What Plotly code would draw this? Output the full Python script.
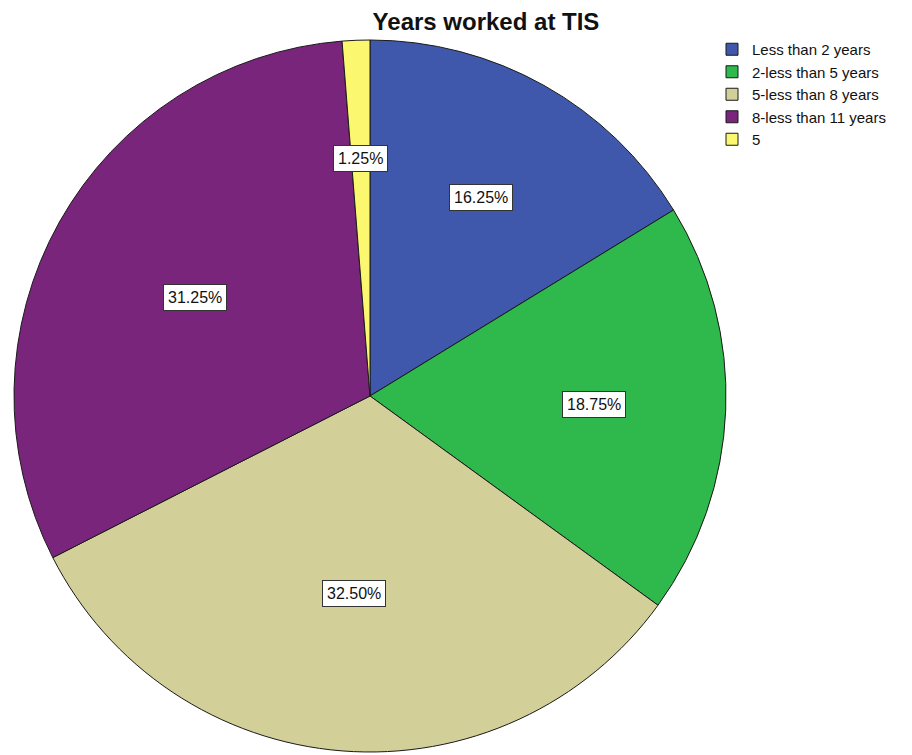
import math
import plotly.graph_objects as go

# ---- data ----
categories = ["Less than 2 years", "2-less than 5 years", "5-less than 8 years",
              "8-less than 11 years", "5"]
counts = [13, 15, 26, 25, 1]
colors = ["#3f58ab", "#2fb84b", "#d3cf99", "#7a257c", "#fbf870"]
title_text = "Years worked at TIS"

# ---- geometry (pixels) ----
W, H = 912, 755
CX, CY, R = 370, 396, 356

dom_x = [(CX - R) / W, (CX + R) / W]
dom_y = [1 - (CY + R) / H, 1 - (CY - R) / H]

total = sum(counts)
pcts = [c / total * 100 for c in counts]
label_txt = [f"{p:.2f}%" for p in pcts]

fig = go.Figure(go.Pie(
    labels=categories,
    values=counts,
    sort=False,
    direction="clockwise",
    rotation=0,
    marker=dict(colors=colors, line=dict(color="#1a1a1a", width=1)),
    textinfo="none",
    hoverinfo="label+percent",
    domain=dict(x=dom_x, y=dom_y),
))

# label boxes at each slice's area centroid
annotations = []
cum = 0
for c, t in zip(counts, label_txt):
    a0 = cum / total * 2 * math.pi
    cum += c
    a1 = cum / total * 2 * math.pi
    mid = (a0 + a1) / 2
    half = (a1 - a0) / 2
    d = 2 * R * math.sin(half) / (3 * half)
    xp = CX + d * math.sin(mid)
    yp = CY - d * math.cos(mid)
    annotations.append(dict(
        x=xp / W, y=1 - yp / H, xref="paper", yref="paper",
        text=t, showarrow=False,
        font=dict(family="Liberation Sans, Arial, sans-serif", size=16, color="#111111"),
        bgcolor="white", bordercolor="#333333", borderwidth=1, borderpad=4,
        xanchor="center", yanchor="middle",
    ))

fig.update_layout(
    width=W, height=H,
    margin=dict(l=0, r=0, t=0, b=0),
    paper_bgcolor="white",
    plot_bgcolor="white",
    title=dict(text=title_text, x=486 / W, y=1 - 22 / H, xanchor="center", yanchor="middle",
               font=dict(family="Liberation Sans, Arial, sans-serif", size=24, color="#111111"),
               xref="paper", yref="paper"),
    legend=dict(x=712 / W, y=1 - 33 / H, xanchor="left", yanchor="top",
                font=dict(family="Liberation Sans, Arial, sans-serif", size=15, color="#111111"),
                bgcolor="rgba(0,0,0,0)", traceorder="normal", itemclick=False),
    annotations=annotations,
    showlegend=True,
)
fig.update_layout(title_font_weight="bold")

fig.write_html("out.html")
